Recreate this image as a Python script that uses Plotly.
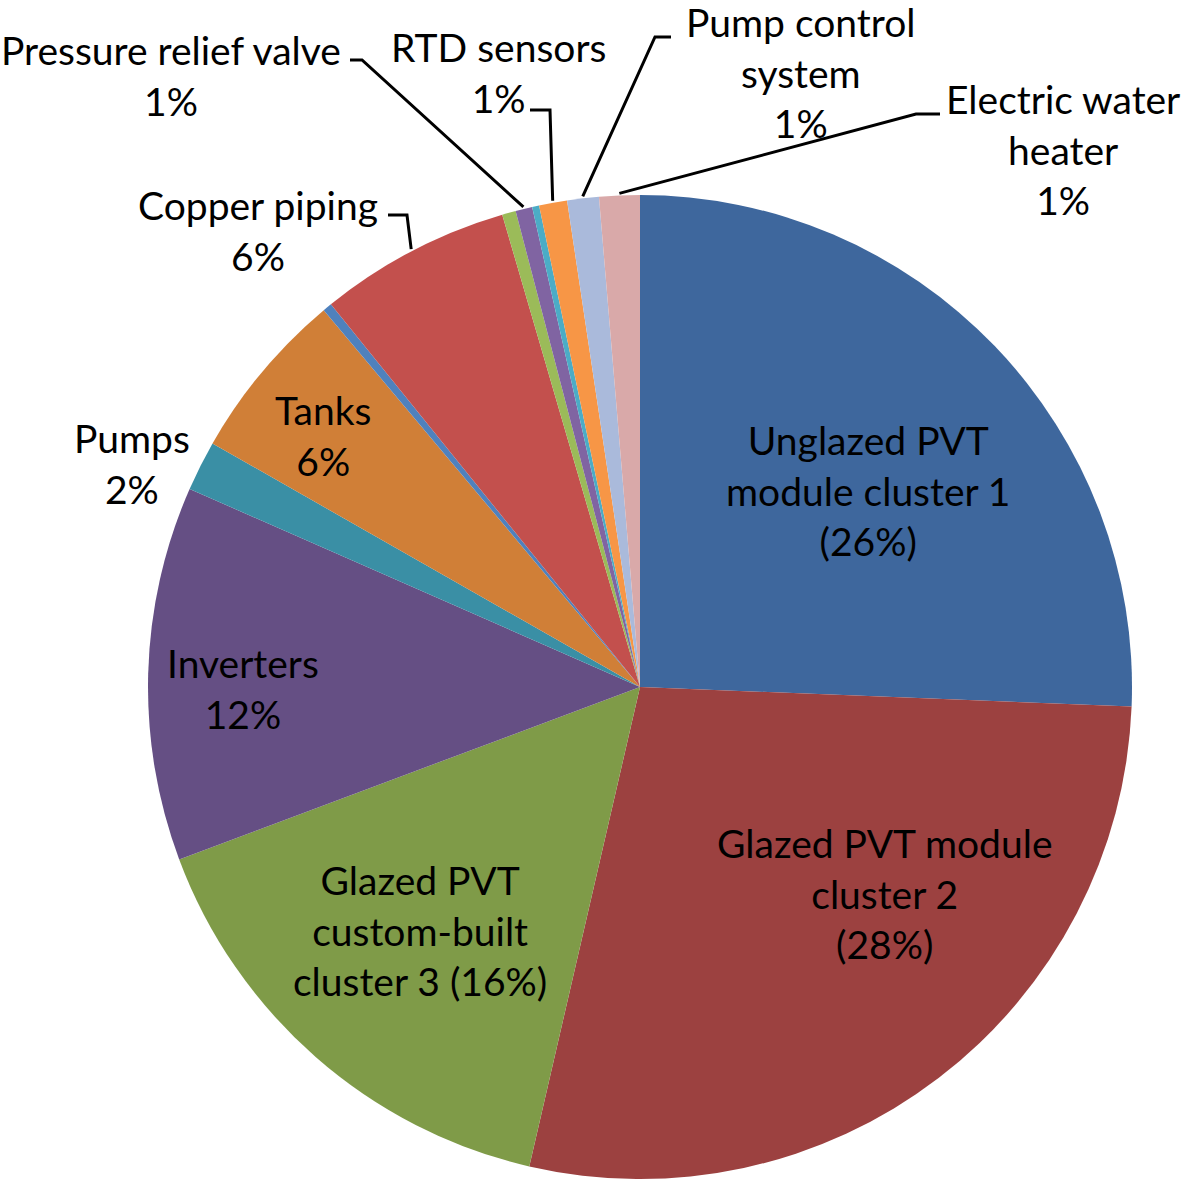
import math
import plotly.graph_objects as go

W, H = 1181, 1180

# slices, clockwise from 12 o'clock
names = ['Unglazed PVT module cluster 1', 'Glazed PVT module cluster 2',
         'Glazed PVT custom-built cluster 3', 'Inverters', 'Pumps', 'Tanks',
         'Unlabelled item A', 'Copper piping', 'Unlabelled item B',
         'Pressure relief valve', 'Unlabelled item C', 'RTD sensors',
         'Pump control system', 'Electric water heater']
shares = [25.65, 28.0, 15.7, 12.3, 1.65, 5.65, 0.3, 6.3, 0.45, 0.55, 0.23, 0.92, 1.04, 1.33]
colors = ['#3E679D', '#9C4140', '#7F9B48', '#654F84', '#3A8FA5', '#D07F37',
          '#4F81BD', '#C3504D', '#9BBB59', '#8064A2', '#4BACC6', '#F79646',
          '#AABADB', '#D9A9A9']

# label text shown on the chart (None = no label)
label_text = ['Unglazed PVT<br>module cluster 1<br>(26%)',
              'Glazed PVT module<br>cluster 2<br>(28%)',
              'Glazed PVT<br>custom-built<br>cluster 3 (16%)',
              'Inverters<br>12%', 'Pumps<br>2%', 'Tanks<br>6%', None,
              'Copper piping<br>6%', None, 'Pressure relief valve<br>1%', None,
              'RTD sensors<br>1%', 'Pump control<br>system<br>1%',
              'Electric water<br>heater<br>1%']
# label centres in pixels
label_pos = [(868, 490), (885, 893), (420, 930), (243, 688), (132, 463), (323, 435), None,
             (258, 230), None, (171, 75), None, (498, 72), (800, 72), (1063, 149)]
# leader line anchor points near the labels (pixels), None = no leader
leader_start = [None, None, None, None, None, None, None,
                [(388, 215), (407, 215)], None, [(350, 60), (362, 60)], None,
                [(530, 110), (550, 110)], [(671, 37), (655, 37)],
                [(940, 114), (916, 114)]]

cx, cy, r = 640, 687, 492


def px(x, y):
    return x / W, 1 - y / H


fig = go.Figure()
x0, y1 = px(cx - r, cy - r)
x1, y0 = px(cx + r, cy + r)
fig.add_trace(go.Pie(
    labels=names, values=shares, sort=False, direction='clockwise', rotation=0,
    marker=dict(colors=colors, line=dict(width=0)),
    textinfo='none', hovertemplate='%{label}: %{percent}<extra></extra>',
    domain=dict(x=[x0, x1], y=[y0, y1]),
    showlegend=False,
))

font = dict(family='Lato, Open Sans, sans-serif', size=39, color='black')
annotations = []
shapes = []
total = sum(shares)
cum = 0
for i, v in enumerate(shares):
    mid = (cum + v / 2) / total * 2 * math.pi
    cum += v
    if label_text[i] is not None:
        x, y = px(*label_pos[i])
        annotations.append(dict(x=x, y=y, xref='paper', yref='paper', text=label_text[i],
                                showarrow=False, font=font, align='center',
                                xanchor='center', yanchor='middle'))
    if leader_start[i] is not None:
        ex = cx + (r + 2) * math.sin(mid)
        ey = cy - (r + 2) * math.cos(mid)
        pts = [px(*p) for p in leader_start[i]] + [px(ex, ey)]
        path = 'M ' + ' L '.join(f'{a:.5f},{b:.5f}' for a, b in pts)
        shapes.append(dict(type='path', path=path, xref='paper', yref='paper',
                           line=dict(color='black', width=3)))

fig.update_layout(width=W, height=H, margin=dict(l=0, r=0, t=0, b=0),
                  paper_bgcolor='white', plot_bgcolor='white',
                  annotations=annotations, shapes=shapes)
# drop the default page margin so the figure fills the window
fig.write_html('out.html', config={'displayModeBar': False},
               post_script="document.body.style.margin='0';")
